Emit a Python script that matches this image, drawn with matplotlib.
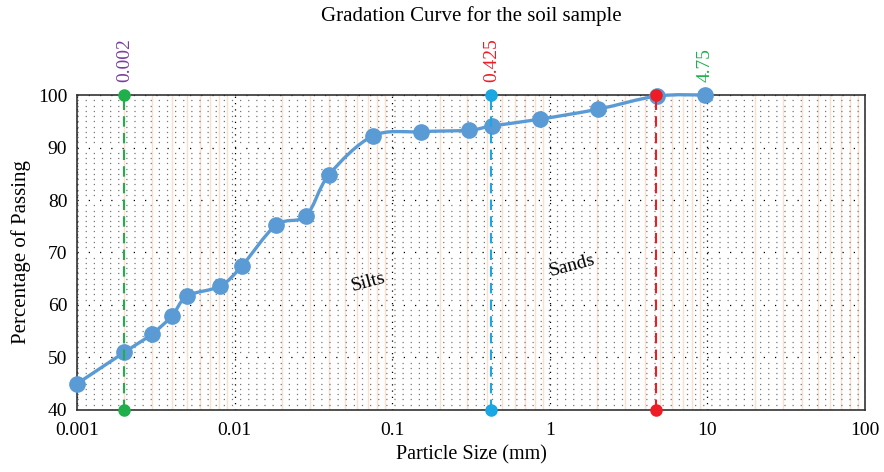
import numpy as np
import matplotlib
matplotlib.use('Agg')
import matplotlib.pyplot as plt
from matplotlib.path import Path
from matplotlib.patches import PathPatch
from matplotlib.ticker import FixedLocator, LogLocator, NullFormatter

plt.rcParams['font.family'] = ['Liberation Serif', 'DejaVu Serif']

# particle sizes (mm) and percent passing
size_mm = [0.001, 0.002, 0.003, 0.004, 0.005, 0.0081, 0.0111, 0.0183, 0.0284,
           0.0397, 0.0755, 0.152, 0.307, 0.43, 0.867, 2.02, 4.79, 9.7]
passing = [45.0, 51.0, 54.5, 57.9, 61.7, 63.6, 67.4, 75.2, 77.0,
           84.8, 92.2, 93.0, 93.3, 94.1, 95.4, 97.3, 99.8, 100.0]

# reference sizes marked with vertical lines
ref_sizes = [0.002, 0.425, 4.75]
ref_colors = ['#1fb04c', '#1aa7e3', '#ee1c25']
# labels above the plot (position, text, colour) as in the source figure
top_label_x = [0.002, 0.43, 9.7]
top_label_txt = ['0.002', '0.425', '4.75']
top_label_col = ['#7a3f9d', '#ee1c25', '#1fb04c']

x_ticks = [0.001, 0.01, 0.1, 1, 10, 100]
x_tick_labels = ['0.001', '0.01', '0.1', '1', '10', '100']
y_ticks = [40, 50, 60, 70, 80, 90, 100]

blue = '#5a9bd5'

fig = plt.figure(figsize=(8.84, 4.72), dpi=100)
ax = fig.add_axes([0.0871, 0.1314, 0.8914, 0.6673])
ax.set_xscale('log')
ax.set_xlim(0.001, 100)
ax.set_ylim(40, 100)

# background grid: dotted rows, orange minor columns, dotted decade columns
ax.yaxis.set_minor_locator(FixedLocator(np.arange(40, 101, 1)))
ax.xaxis.set_minor_locator(LogLocator(base=10, subs=np.arange(2, 10), numticks=50))
ax.xaxis.set_minor_formatter(NullFormatter())
ax.grid(True, which='minor', axis='y', color='#777777', linestyle=(0, (1, 5.5)), lw=0.9)
ax.grid(True, which='minor', axis='x', color='#fbe0d0', linestyle='-', lw=1.0)
ax.grid(True, which='major', axis='x', color='black', linestyle=(0, (1, 4)), lw=0.9)
ax.grid(True, which='major', axis='y', color='black', linestyle=(0, (1, 8)), lw=0.9)
ax.set_axisbelow(True)

# smoothed line through the points (bezier segments, catmull-rom style)
lx = np.log10(size_mm)
verts = [(size_mm[0], passing[0])]
codes = [Path.MOVETO]
n = len(size_mm)
for i in range(n - 1):
    i0, i3 = max(i - 1, 0), min(i + 2, n - 1)
    c1x = lx[i] + (lx[i + 1] - lx[i0]) / 6
    c1y = passing[i] + (passing[i + 1] - passing[i0]) / 6
    c2x = lx[i + 1] - (lx[i3] - lx[i]) / 6
    c2y = passing[i + 1] - (passing[i3] - passing[i]) / 6
    verts += [(10 ** c1x, c1y), (10 ** c2x, c2y), (size_mm[i + 1], passing[i + 1])]
    codes += [Path.CURVE4] * 3
ax.add_patch(PathPatch(Path(verts, codes), facecolor='none', edgecolor=blue,
                       lw=2.4, zorder=3, clip_on=False))
ax.plot(size_mm, passing, 'o', color=blue, ms=11, zorder=4, clip_on=False)

for xs, col in zip(ref_sizes, ref_colors):
    ax.plot([xs, xs], [40, 100], color=col, lw=1.5, ls=(0, (5, 3)), zorder=5)
    ax.plot([xs, xs], [40, 100], 'o', color=col, ms=8, zorder=6, clip_on=False)

for xs, t, col in zip(top_label_x, top_label_txt, top_label_col):
    ax.text(xs, 102.4, t, color=col, rotation=90, ha='center', va='bottom', fontsize=14)

ax.text(0.0703, 64.4, 'Silts', rotation=15, fontsize=14, ha='center', va='center')
ax.text(1.38, 67.6, 'Sands', rotation=15, fontsize=14, ha='center', va='center')

ax.set_xticks(x_ticks)
ax.set_xticklabels(x_tick_labels)
ax.set_yticks(y_ticks)
ax.tick_params(which='both', length=0, labelsize=14)
ax.tick_params(axis='x', pad=9)
ax.tick_params(axis='y', pad=7)
for s in ax.spines.values():
    s.set_linewidth(1.2)
    s.set_color('#333333')

ax.set_xlabel('Particle Size (mm)', fontsize=14.5, labelpad=4)
ax.set_ylabel('Percentage of Passing', fontsize=15, labelpad=5)
fig.text(0.533, 0.965, 'Gradation Curve for the soil sample', ha='center', va='center', fontsize=15)

fig.savefig('out.png', dpi=100)
